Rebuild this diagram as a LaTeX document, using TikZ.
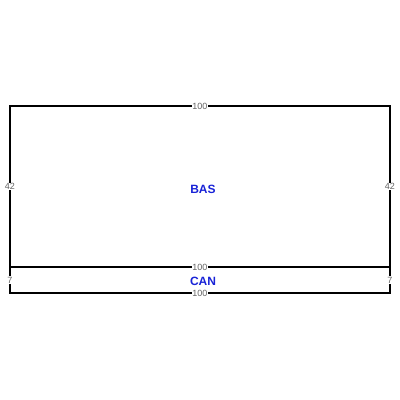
\documentclass[tikz,border=0pt]{standalone}
\usepackage{fontspec}
\setmainfont{Liberation Sans}
\usetikzlibrary{calc}
\definecolor{lblblue}{RGB}{25,35,215}
\definecolor{dimgray}{RGB}{100,100,100}
\tikzset{
  edge/.style={line width=2pt, black},
  dim/.style={fill=white, inner sep=0.6pt, text=dimgray, font=\fontsize{9}{9}\selectfont},
  roomname/.style={text=lblblue, font=\bfseries\fontsize{12}{12}\selectfont, inner sep=0pt}
}
\begin{document}
\begin{tikzpicture}[x=1pt,y=1pt]
\useasboundingbox (0,0) rectangle (400,400);
\coordinate (tl) at (10,294);
\coordinate (tr) at (390,294);
\coordinate (ml) at (10,133);
\coordinate (mr) at (390,133);
\coordinate (bl) at (10,107);
\coordinate (br) at (390,107);
\draw[edge] (ml) -- (tl) -- (tr) -- (mr);
\draw[edge] (ml) -- (mr);
\draw[edge] (ml) -- (bl) -- (br) -- (mr);
\node[dim] (t100) at ($(tl)!0.5!(tr)$) {100};
\node[dim] (m100) at ($(ml)!0.5!(mr)$) {100};
\node[dim] (b100) at ($(bl)!0.5!(br)$) {100};
\node[dim] (l42) at ($(tl)!0.5!(ml)$) {42};
\node[dim] (r42) at ($(tr)!0.5!(mr)$) {42};
\node[dim] (l7) at ($(ml)!0.5!(bl)$) {7};
\node[dim] (r7) at ($(mr)!0.5!(br)$) {7};
\node[roomname] (bas) at (203,211) {BAS};
\node[roomname] (can) at (203,119) {CAN};
\end{tikzpicture}
\end{document}
